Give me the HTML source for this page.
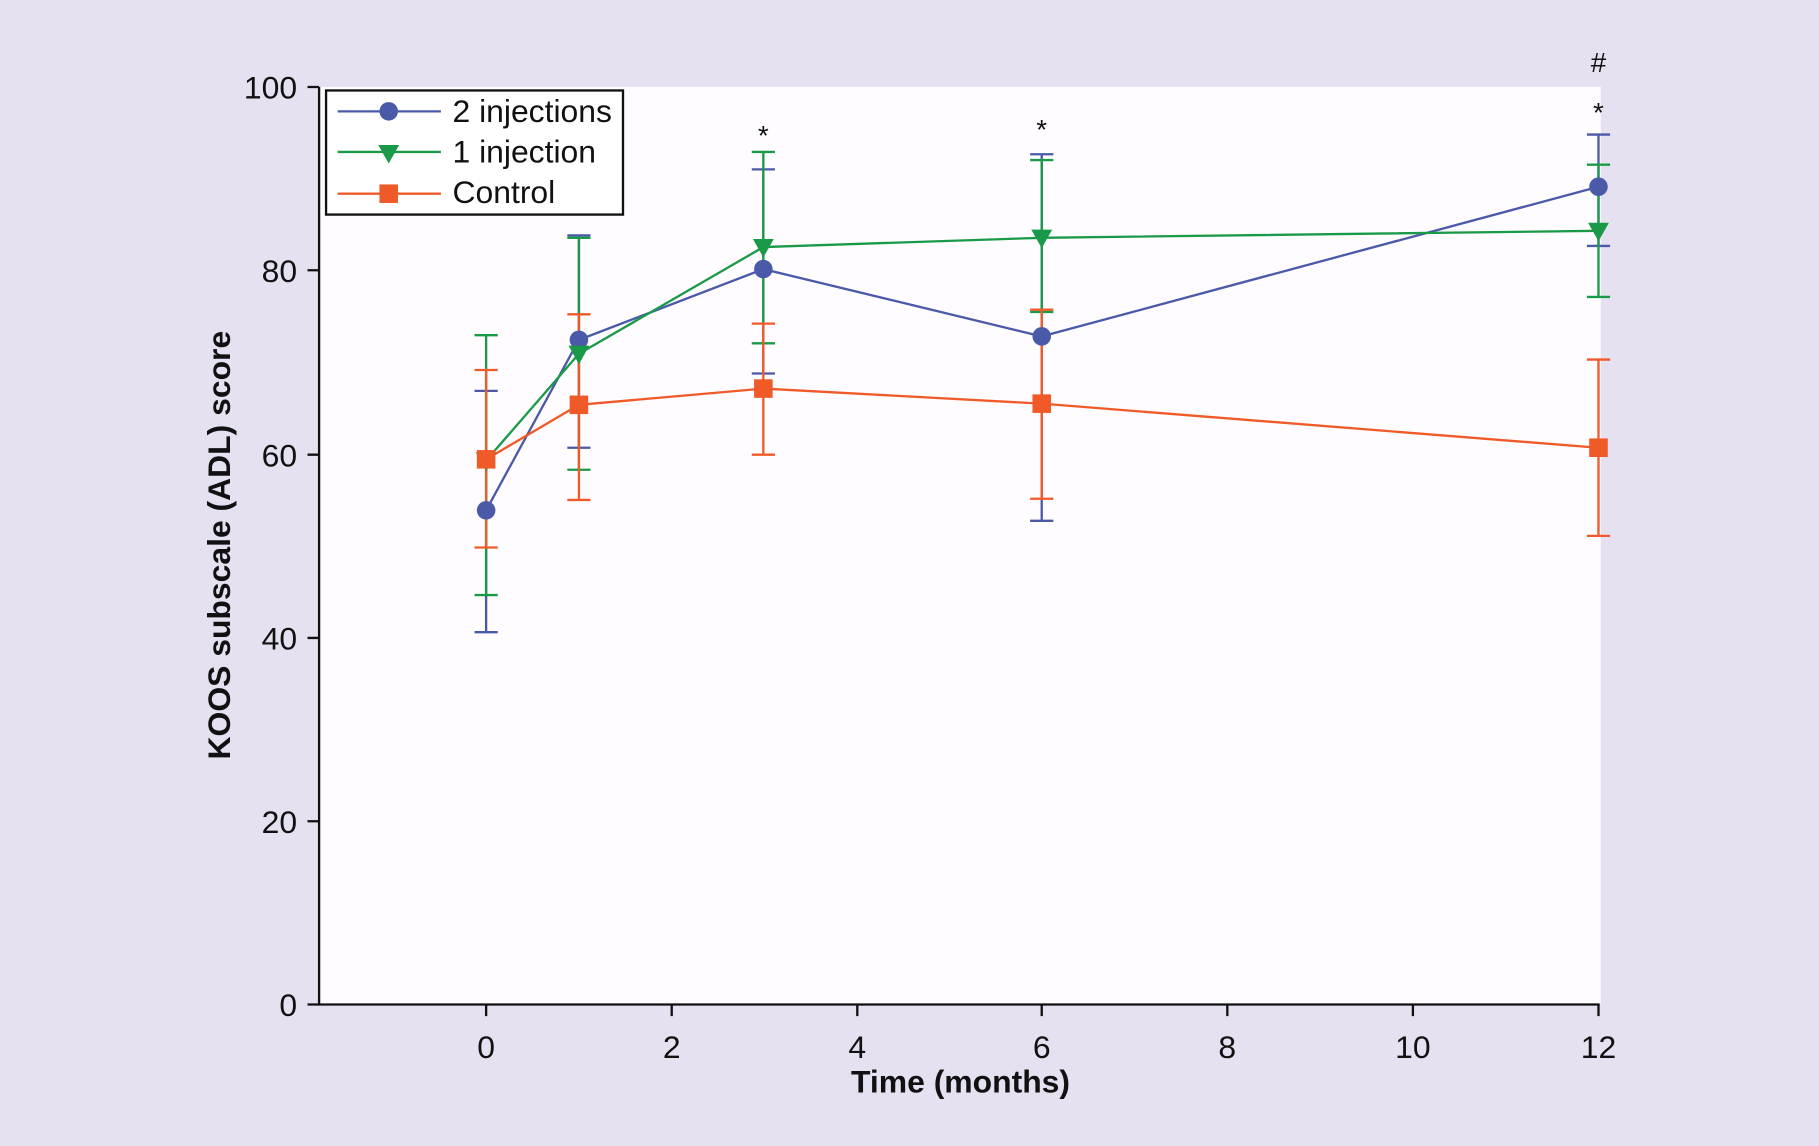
<!DOCTYPE html>
<html><head><style>html,body{margin:0;padding:0;background:#e6e1f0;}svg{display:block}</style></head>
<body>
<svg width="1819" height="1146" viewBox="0 0 1568 988" xmlns="http://www.w3.org/2000/svg" font-family="Liberation Sans, sans-serif">
<rect width="1568" height="988" fill="#e6e1f0"/>
<rect x="275" y="75" width="1105" height="791" fill="#fefcff"/>
<g stroke="#111" stroke-width="2" fill="none">
<path d="M275 75V866H1379"/>
<path d="M265 75H275M265 233H275M265 392H275M265 550H275M265 708H275M265 866H275"/>
<path d="M419 866V876M579 866V876M739 866V876M898 866V876M1058 866V876M1218 866V876M1378 866V876"/>
</g>
<g font-size="27.5" fill="#111" text-anchor="end">
<text x="256" y="85">100</text><text x="256" y="243">80</text><text x="256" y="402">60</text><text x="256" y="560">40</text><text x="256" y="718">20</text><text x="256" y="876">0</text>
</g>
<g font-size="27.5" fill="#111" text-anchor="middle">
<text x="419" y="912">0</text><text x="579" y="912">2</text><text x="739" y="912">4</text><text x="898" y="912">6</text><text x="1058" y="912">8</text><text x="1218" y="912">10</text><text x="1378" y="912">12</text>
<text x="828" y="942" font-weight="bold" font-size="27.5">Time (months)</text>
<text x="658" y="125" font-size="24">*</text><text x="898" y="120" font-size="24">*</text><text x="1378" y="105" font-size="24">*</text><text x="1378" y="62" font-size="24">#</text>
</g>
<text transform="translate(198 470) rotate(-90)" font-size="27.5" font-weight="bold" text-anchor="middle" fill="#111">KOOS subscale (ADL) score</text>
<g stroke="#4a5aa8" stroke-width="2">
<path d="M419 545V337M409 545H429M409 337H429"/>
<path d="M499 386V203M489 386H509M489 203H509"/>
<path d="M658 322V146M648 322H668M648 146H668"/>
<path d="M898 449V133M888 449H908M888 133H908"/>
<path d="M1378 212V116M1368 212H1388M1368 116H1388"/>
</g>
<g stroke="#1a9a48" stroke-width="2">
<path d="M419 513V289M409 513H429M409 289H429"/>
<path d="M499 405V205M489 405H509M489 205H509"/>
<path d="M658 296V131M648 296H668M648 131H668"/>
<path d="M898 269V138M888 269H908M888 138H908"/>
<path d="M1378 256V142M1368 256H1388M1368 142H1388"/>
</g>
<g stroke="#f05a28" stroke-width="2">
<path d="M419 472V319M409 472H429M409 319H429"/>
<path d="M499 431V271M489 431H509M489 271H509"/>
<path d="M658 392V279M648 392H668M648 279H668"/>
<path d="M898 430V267M888 430H908M888 267H908"/>
<path d="M1378 462V310M1368 462H1388M1368 310H1388"/>
</g>
<polyline points="419,440 499,293 658,232 898,290 1378,161" fill="none" stroke="#4a5aa8" stroke-width="2"/>
<polyline points="419,397 499,305 658,213 898,205 1378,199" fill="none" stroke="#1a9a48" stroke-width="2"/>
<polyline points="419,396 499,349 658,335 898,348 1378,386" fill="none" stroke="#f05a28" stroke-width="2"/>
<g fill="#4a5aa8"><circle cx="419" cy="440" r="8"/><circle cx="499" cy="293" r="8"/><circle cx="658" cy="232" r="8"/><circle cx="898" cy="290" r="8"/><circle cx="1378" cy="161" r="8"/></g>
<g fill="#1a9a48">
<path d="M410 390h18l-9 16z"/><path d="M490 298h18l-9 16z"/><path d="M649 206h18l-9 16z"/><path d="M889 198h18l-9 16z"/><path d="M1369 192h18l-9 16z"/>
</g>
<g fill="#f05a28">
<rect x="411" y="388" width="16" height="16"/><rect x="491" y="341" width="16" height="16"/><rect x="650" y="327" width="16" height="16"/><rect x="890" y="340" width="16" height="16"/><rect x="1370" y="378" width="16" height="16"/>
</g>
<rect x="281" y="78" width="256" height="107" fill="#fff" stroke="#111" stroke-width="2"/>
<path d="M291 96H380" stroke="#4a5aa8" stroke-width="2"/><circle cx="335" cy="96" r="8" fill="#4a5aa8"/>
<path d="M291 131H380" stroke="#1a9a48" stroke-width="2"/><path d="M326 125h18l-9 16z" fill="#1a9a48"/>
<path d="M291 167H380" stroke="#f05a28" stroke-width="2"/><rect x="327" y="159" width="16" height="16" fill="#f05a28"/>
<g font-size="27.5" fill="#111"><text x="390" y="105">2 injections</text><text x="390" y="140">1 injection</text><text x="390" y="175">Control</text></g>
</svg>
</body></html>
